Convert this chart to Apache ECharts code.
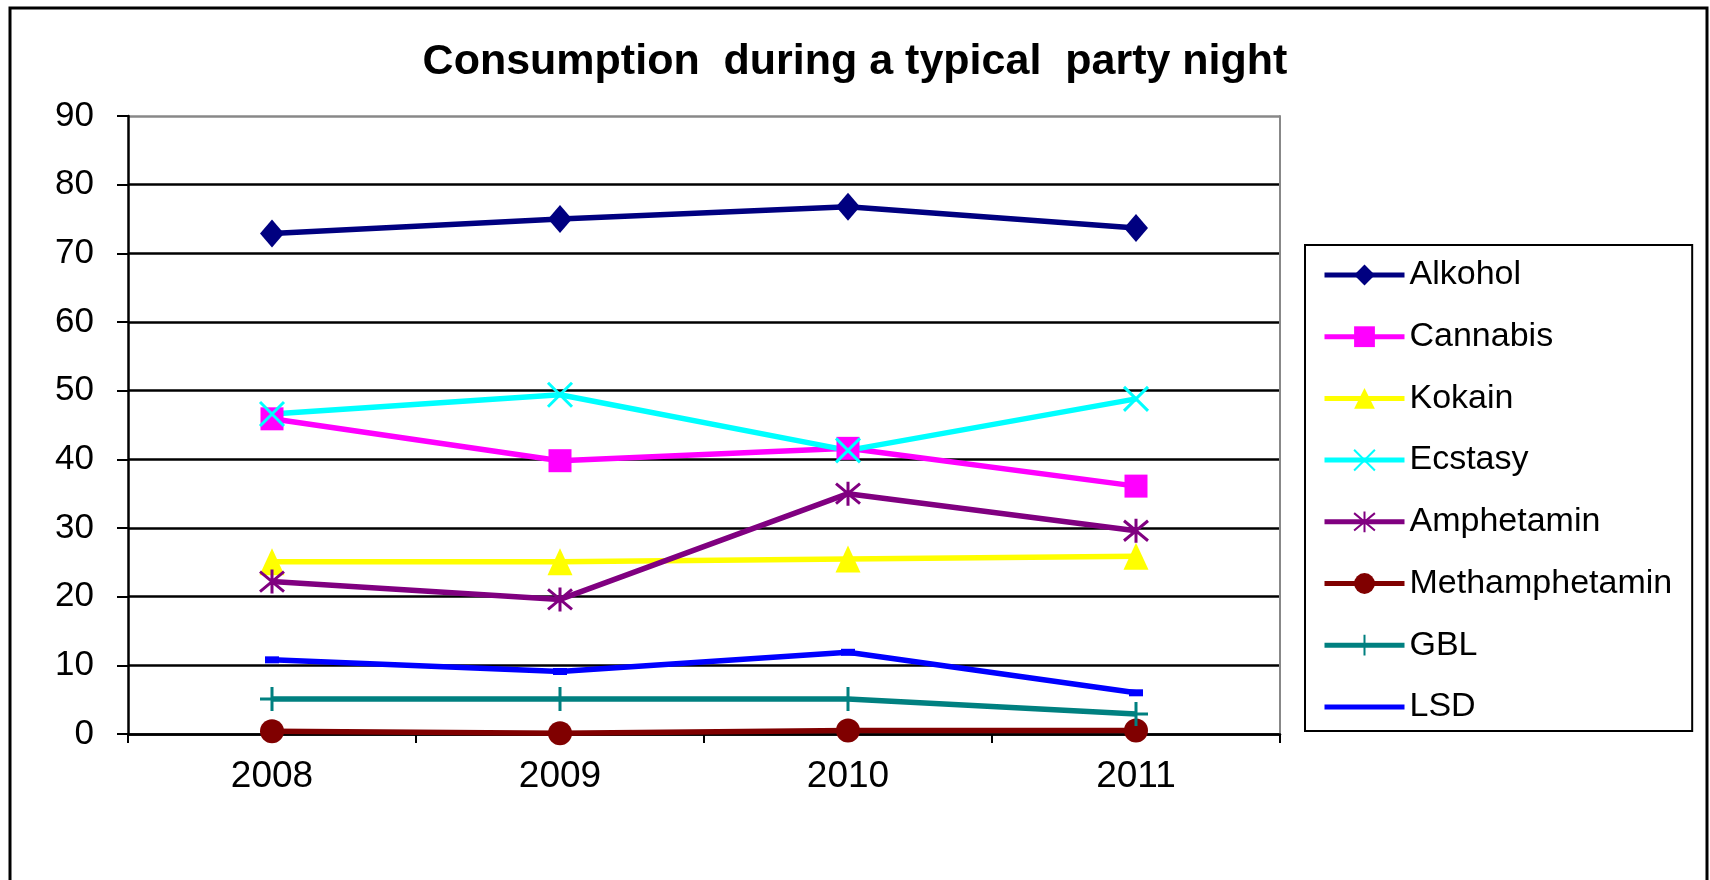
<!DOCTYPE html>
<html>
<head>
<meta charset="utf-8">
<title>Consumption during a typical party night</title>
<script src="https://cdn.jsdelivr.net/npm/echarts@6/dist/echarts.min.js"></script>
<style>
  html, body { margin: 0; padding: 0; background: #fff; }
  #chart { width: 1710px; height: 880px; }
</style>
</head>
<body>
<div id="chart"></div>
<script>
// Survey years (categories)
const years = ['2008', '2009', '2010', '2011'];

// Share of respondents per substance, in percent
const alkohol        = [72.9, 75.0, 76.8, 73.7];
const cannabis       = [45.9, 39.8, 41.6, 36.1];
const kokain         = [25.1, 25.1, 25.5, 25.9];
const ecstasy        = [46.6, 49.4, 41.3, 48.8];
const amphetamin     = [22.2, 19.6, 35.0, 29.6];
const methamphetamin = [0.4, 0.1, 0.5, 0.5];
const gbl            = [5.1, 5.1, 5.1, 2.9];
const lsd            = [10.8, 9.1, 11.9, 6.0];

// Value axis range
const yMin = 0, yMax = 90, yStep = 10;

const FONT = '"Liberation Sans", Arial, sans-serif';

// Marker shapes drawn as open strokes
const X_MARK = 'path://M0,0L10,10M10,0L0,10';
const STAR_MARK = 'path://M0,0L10,10M10,0L0,10M5,-1L5,11';
const PLUS_MARK = 'path://M5,0L5,10M0,5L10,5';

function lineSeries(name, data, color, symbol, symbolSize, stroked) {
  return {
    name: name,
    type: 'line',
    data: data,
    symbol: symbol,
    symbolSize: symbolSize,
    showAllSymbol: true,
    lineStyle: { color: color, width: 5.5 },
    itemStyle: stroked
      ? { color: color, borderColor: color, borderWidth: 3 }
      : { color: color, borderWidth: 0 },
    emphasis: { disabled: true },
    animation: false
  };
}

// Grid lines: black, the top one is part of the grey plot frame
const gridColors = [];
for (let v = yMin; v <= yMax; v += yStep) gridColors.push(v === yMax ? '#888888' : '#000000');

const legendNames = ['Alkohol', 'Cannabis', 'Kokain', 'Ecstasy', 'Amphetamin', 'Methamphetamin', 'GBL', 'LSD'];
// the LSD dash marker is hidden under the line in the legend sample
const legendData = legendNames.map(n => n === 'LSD' ? { name: n, itemStyle: { opacity: 0 } } : { name: n });

const chart = echarts.init(document.getElementById('chart'), null, { renderer: 'canvas' });

chart.setOption({
  backgroundColor: '#ffffff',
  animation: false,
  textStyle: { fontFamily: FONT, color: '#000' },
  title: {
    text: 'Consumption  during a typical  party night',
    left: 'center',
    top: 36,
    textStyle: { fontFamily: FONT, fontSize: 43, fontWeight: 'bold', color: '#000' }
  },
  grid: { left: 128, right: 430, top: 116, bottom: 146 },
  legend: {
    orient: 'vertical',
    left: 1305,
    top: 245,
    padding: [13, 20, 7, 17],
    itemWidth: 80,
    itemHeight: 26,
    itemGap: 27.7,
    itemTextGap: 10,
    borderColor: '#000',
    borderWidth: 2,
    selectedMode: false,
    lineStyle: { width: 5 },
    textStyle: { fontFamily: FONT, fontSize: 34, color: '#000' },
    data: legendData
  },
  xAxis: {
    type: 'category',
    data: years,
    boundaryGap: true,
    axisLine: { show: true, lineStyle: { color: '#000', width: 2.5 } },
    axisTick: { show: true, length: 9, inside: false, lineStyle: { color: '#000', width: 2 } },
    axisLabel: { fontFamily: FONT, fontSize: 37, color: '#000', margin: 24 },
    splitLine: { show: false }
  },
  yAxis: [
    {
      type: 'value',
      min: yMin,
      max: yMax,
      interval: yStep,
      axisLine: { show: true, lineStyle: { color: '#000', width: 2.5 } },
      axisTick: { show: true, length: 11, inside: false, lineStyle: { color: '#000', width: 2 } },
      axisLabel: { fontFamily: FONT, fontSize: 35, color: '#000', margin: 34 },
      splitLine: { show: true, lineStyle: { color: gridColors, width: 2.5 } }
    },
    {
      // right edge of the plot frame
      type: 'value',
      position: 'right',
      min: yMin,
      max: yMax,
      interval: yStep,
      axisLine: { show: true, lineStyle: { color: '#888888', width: 2 } },
      axisTick: { show: false },
      axisLabel: { show: false },
      splitLine: { show: false }
    }
  ],
  series: [
    lineSeries('Alkohol', alkohol, '#000080', 'diamond', [24, 28], false),
    lineSeries('Cannabis', cannabis, '#FF00FF', 'rect', [23, 23], false),
    lineSeries('Kokain', kokain, '#FFFF00', 'triangle', [25, 27], false),
    lineSeries('Ecstasy', ecstasy, '#00FFFF', X_MARK, [24, 24], true),
    lineSeries('Amphetamin', amphetamin, '#800080', STAR_MARK, [24, 24], true),
    lineSeries('Methamphetamin', methamphetamin, '#800000', 'circle', [24, 24], false),
    lineSeries('GBL', gbl, '#008080', PLUS_MARK, [24, 24], true),
    lineSeries('LSD', lsd, '#0000FF', 'rect', [14, 7], false)
  ],
  graphic: [
    {
      // outer chart frame
      type: 'rect',
      shape: { x: 10, y: 8, width: 1697, height: 900 },
      style: { fill: 'none', stroke: '#000', lineWidth: 3 },
      silent: true
    }
  ]
});
</script>
</body>
</html>
